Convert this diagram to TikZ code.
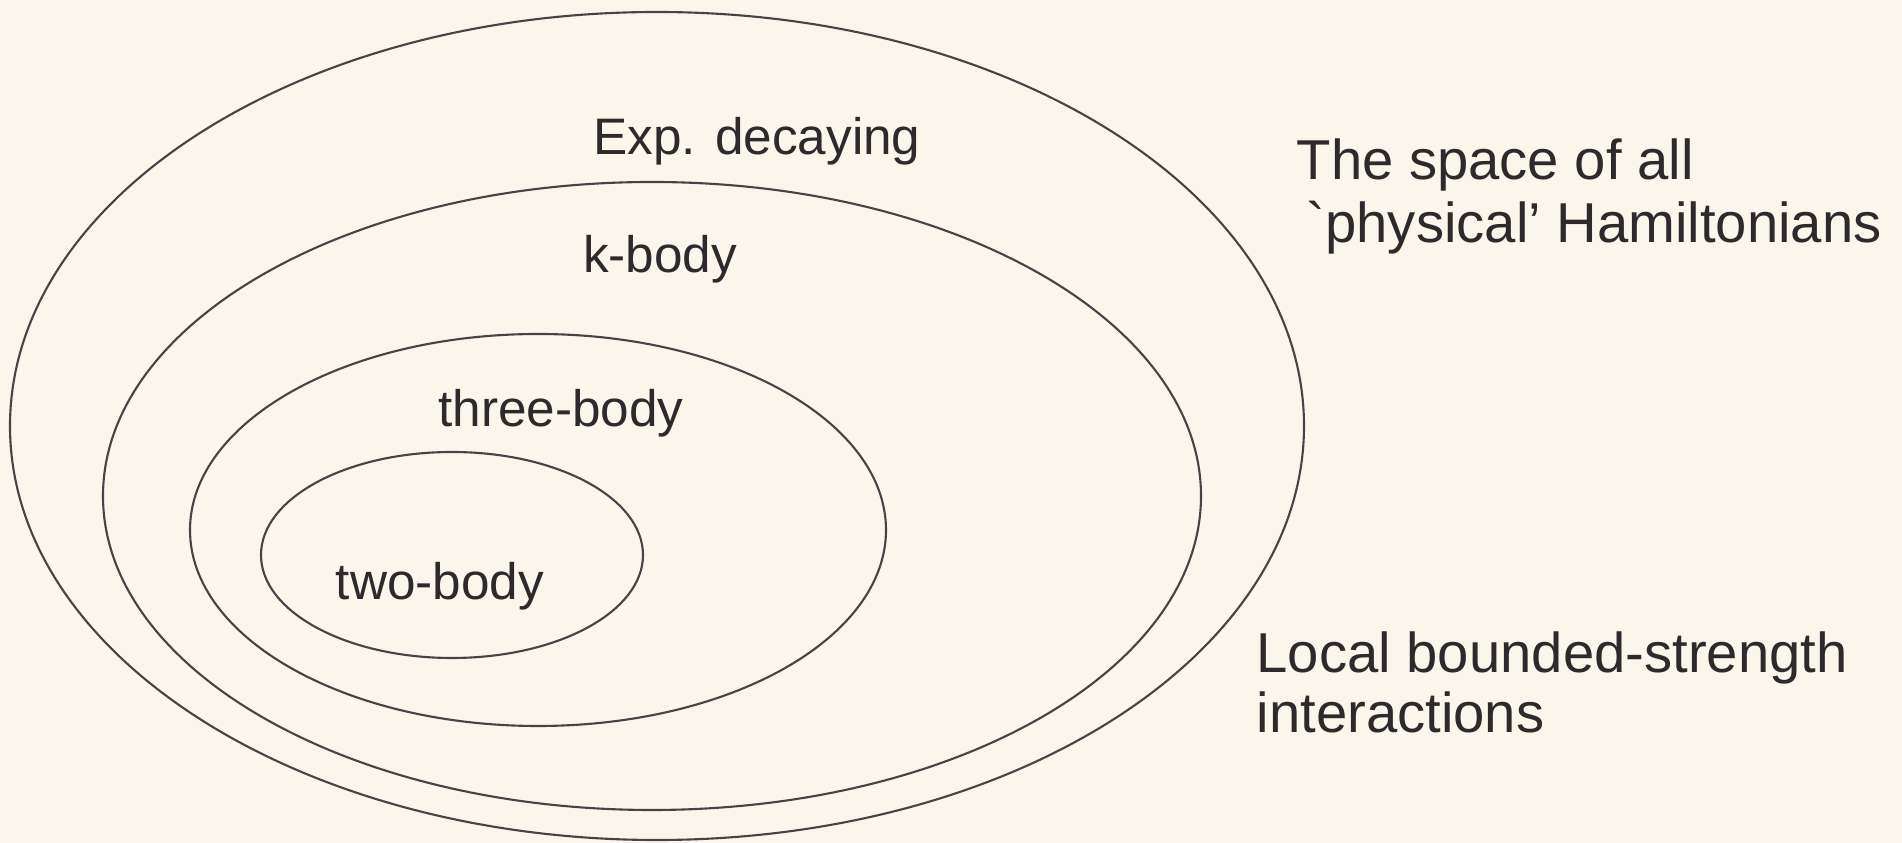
\documentclass[tikz,border=0pt]{standalone}
\usepackage{fontspec}
\setmainfont{Liberation Sans}
\usepackage{tikz}
\usetikzlibrary{positioning}

\definecolor{paper}{RGB}{251,246,235}
\definecolor{ink}{RGB}{45,42,45}
\definecolor{rim}{RGB}{70,68,70}

\tikzset{
	ring/.style={draw=rim, line width=0.6pt},
	lbl/.style={text=ink, font=\fontsize{14.6}{17}\selectfont, inner sep=0pt, anchor=base},
	side/.style={text=ink, font=\fontsize{16}{19}\selectfont, inner sep=0pt, anchor=base west, align=left}
}

\begin{document}
\begin{tikzpicture}
	
	% Draw paper
	\fill[paper] (0,0) rectangle (19.02,8.43);
	\useasboundingbox (0,0) rectangle (19.02,8.43);
	
	% Draw nested classes
	\draw[ring] (6.57,4.17) ellipse (6.47 and 4.14);
	\draw[ring] (6.52,3.47) ellipse (5.49 and 3.14);
	\draw[ring] (5.38,3.13) ellipse (3.48 and 1.96);
	\draw[ring] (4.52,2.88) ellipse (1.91 and 1.03);
	
	% Draw class names
	\node[lbl] (expdec) at (7.57,6.88) {Exp. decaying};
	\node[lbl] (kbody) at (6.60,5.70) {k-body};
	\node[lbl] (threebody) at (5.61,4.16) {three-body};
	\node[lbl] (twobody) at (4.40,2.43) {two-body};
	
	% Draw side notes
	\node[side] (allspace) at (12.96,6.63) {The space of all};
	\node[side] (physical) at (13.06,6.00) {\textasciigrave physical' Hamiltonians};
	\node[side] (localbs) at (12.56,1.70) {Local bounded-strength};
	\node[side] (interact) at (12.56,1.10) {interactions};
	
\end{tikzpicture}
\end{document}
